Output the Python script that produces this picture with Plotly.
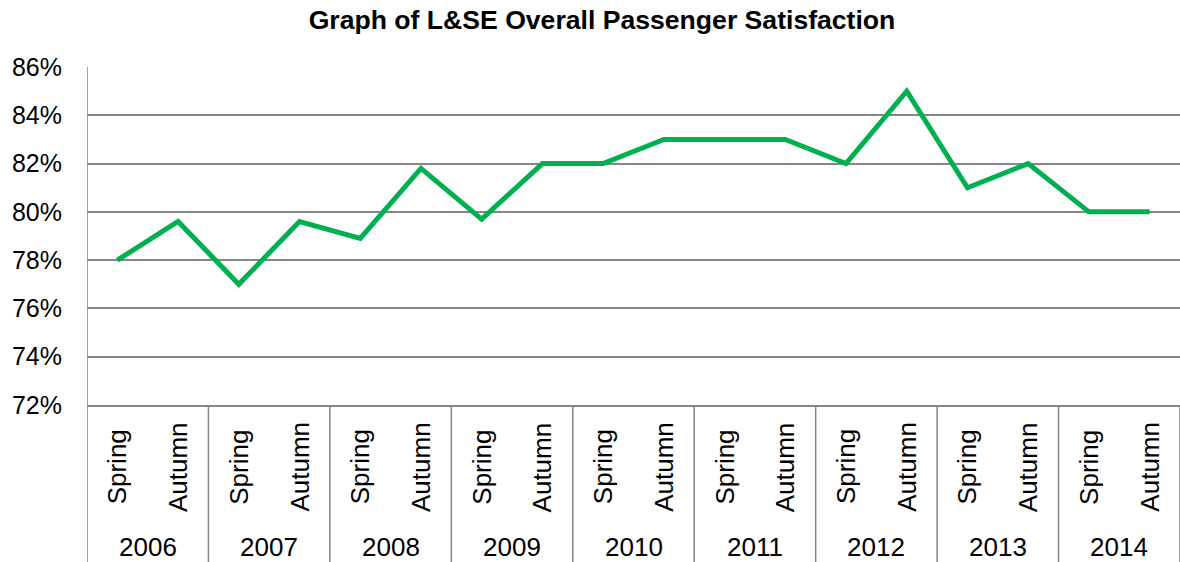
import plotly.graph_objects as go

years = ["2006", "2007", "2008", "2009", "2010", "2011", "2012", "2013", "2014"]
seasons = ["Spring", "Autumn"]
satisfaction = [78.0, 79.6, 77.0, 79.6, 78.9, 81.8, 79.7, 82.0, 82.0,
                83.0, 83.0, 83.0, 82.0, 85.0, 81.0, 82.0, 80.0, 80.0]
y_ticks = [72, 74, 76, 78, 80, 82, 84, 86]
y_tick_text = [f"{v}%" for v in y_ticks]

W, H = 1180, 562
ML, MT, MB = 87, 67, 157
plot_h = H - MT - MB

n = len(years) * len(seasons)
xs = list(range(n))
labels = [s for _ in years for s in seasons]

FONT = "Liberation Sans, Arial, sans-serif"
GRID = "#868686"

fig = go.Figure()
fig.add_trace(go.Scatter(
    x=xs, y=satisfaction, mode="lines",
    line=dict(color="#00B050", width=5),
    hoverinfo="skip", showlegend=False,
))

annotations = []
for i, lab in enumerate(labels):
    annotations.append(dict(
        x=i, y=(405 - 467) / plot_h, xref="x", yref="paper",
        text=lab, textangle=-90, showarrow=False,
        xanchor="center", yanchor="middle",
        font=dict(family=FONT, size=26, color="#000000"),
    ))
for k, yr in enumerate(years):
    annotations.append(dict(
        x=2 * k + 0.5, y=(405 - 547) / plot_h, xref="x", yref="paper",
        text=yr, showarrow=False, xanchor="center", yanchor="middle",
        font=dict(family=FONT, size=26, color="#000000"),
    ))

shapes = []
for k in range(len(years) + 1):
    shapes.append(dict(
        type="line", xref="x", yref="paper",
        x0=2 * k - 0.5, x1=2 * k - 0.5,
        y0=-(H - 405) / plot_h, y1=0 if k > 0 else 1,
        line=dict(color=GRID, width=1.5),
    ))

fig.update_layout(
    width=W, height=H,
    margin=dict(l=ML, r=0, t=MT, b=MB),
    paper_bgcolor="white", plot_bgcolor="white",
    title=dict(
        text="<b>Graph of L&SE Overall Passenger Satisfaction</b>",
        x=602 / W, xref="container", xanchor="center",
        y=1 - 20 / H, yref="container", yanchor="middle",
        font=dict(family=FONT, size=26.6, color="#000000"),
    ),
    xaxis=dict(
        range=[-0.5, n - 0.5], showticklabels=False, showgrid=False,
        zeroline=False, showline=True, linecolor=GRID, linewidth=1.5,
        fixedrange=True,
    ),
    yaxis=dict(
        range=[72, 86], tickmode="array", tickvals=y_ticks, ticktext=y_tick_text,
        showgrid=True, gridcolor=GRID, gridwidth=1.5,
        zeroline=False, showline=False,
        ticks="", ticklabelstandoff=24,
        tickfont=dict(family=FONT, size=25, color="#000000"),
        fixedrange=True,
    ),
    annotations=annotations,
    shapes=shapes,
)

fig.write_html("out.html", config={"displayModeBar": False},
               post_script="document.body.style.margin='0';")
